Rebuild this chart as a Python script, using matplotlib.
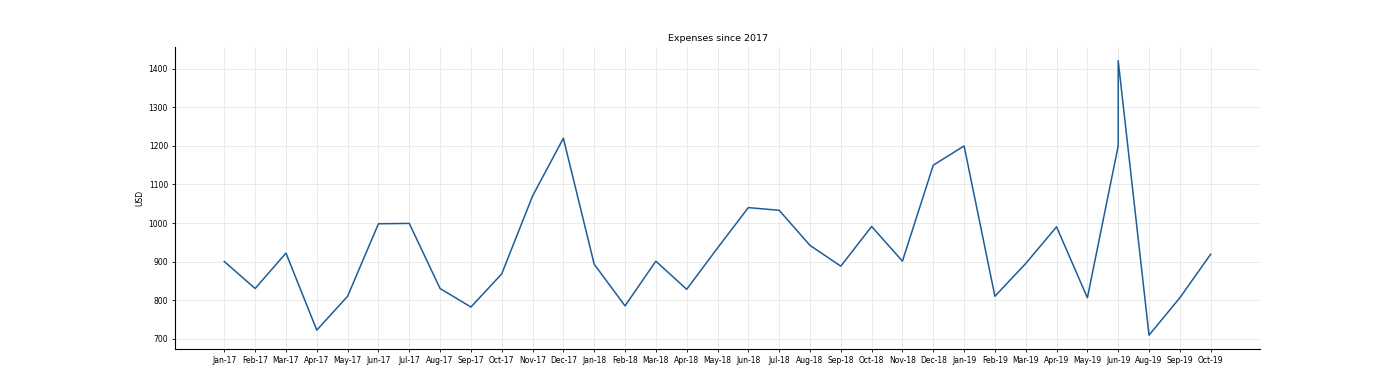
import matplotlib.pyplot as plt

# month labels as they appear on the axis (Jun-19 shows up twice in the source data)
months = ['Jan-17', 'Feb-17', 'Mar-17', 'Apr-17', 'May-17', 'Jun-17', 'Jul-17', 'Aug-17',
          'Sep-17', 'Oct-17', 'Nov-17', 'Dec-17', 'Jan-18', 'Feb-18', 'Mar-18', 'Apr-18',
          'May-18', 'Jun-18', 'Jul-18', 'Aug-18', 'Sep-18', 'Oct-18', 'Nov-18', 'Dec-18',
          'Jan-19', 'Feb-19', 'Mar-19', 'Apr-19', 'May-19', 'Jun-19', 'Jun-19', 'Aug-19',
          'Sep-19', 'Oct-19']
expenses = [900, 830, 922, 722, 810, 998, 999, 830,
            782, 868, 1070, 1220, 893, 785, 901, 828,
            935, 1040, 1033, 942, 888, 991, 901, 1150,
            1200, 810, 895, 990, 806, 1200, 1421, 709,
            806, 919]

fig, ax = plt.subplots(figsize=(14, 3.92), dpi=100)

ax.plot(months, expenses, color='#1f5c99', linewidth=1.1)

ax.set_title('Expenses since 2017', fontsize=6.8, pad=4)
ax.set_ylabel('USD', fontsize=5.5, labelpad=3)
ax.tick_params(labelsize=5.5, length=2.5, width=0.6, pad=2.5)
ax.grid(True, color='#e8e8e8', linewidth=0.6)
ax.set_axisbelow(True)
ax.spines['top'].set_visible(False)
ax.spines['right'].set_visible(False)
ax.spines['left'].set_linewidth(0.8)
ax.spines['bottom'].set_linewidth(0.8)

plt.savefig('out.png')
